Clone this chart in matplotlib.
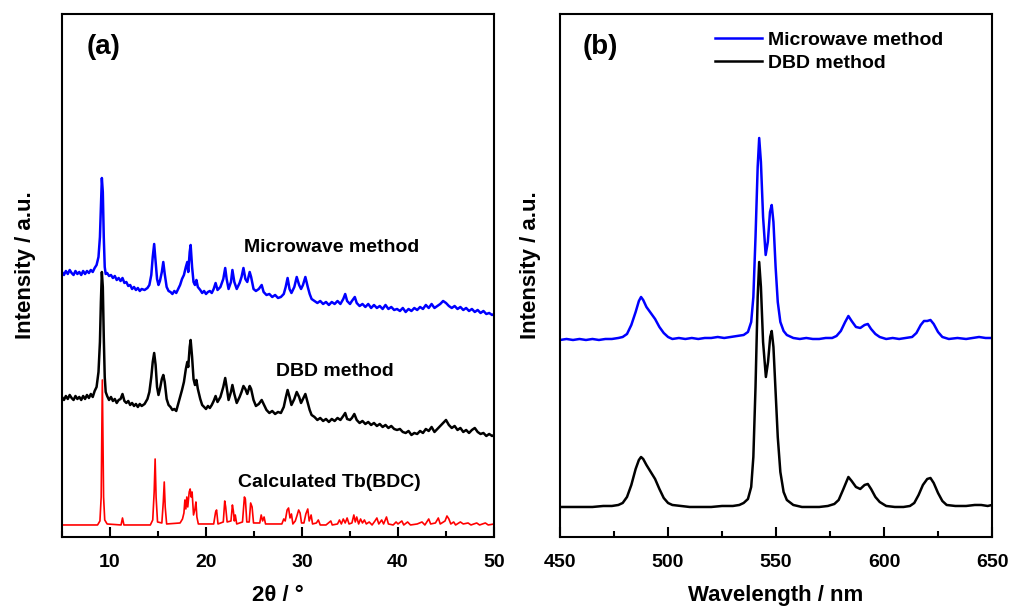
import numpy as np
import matplotlib
matplotlib.use('Agg')
import matplotlib.pyplot as plt

plt.rcParams['font.family'] = ['Liberation Sans', 'DejaVu Sans']
plt.rcParams['font.weight'] = 'bold'

# (a) XRD, 2theta in degrees, intensity in arbitrary units (stacked)
xrd_mw = np.array([
    [5.0, 265], [5.2, 262], [5.4, 266], [5.6, 263], [5.8, 267], [6.0, 264], [6.2, 262], [6.4, 266],
    [6.6, 263], [6.8, 265], [7.0, 262], [7.2, 266], [7.4, 263], [7.6, 266], [7.8, 264], [8.0, 267],
    [8.2, 265], [8.4, 269], [8.6, 272], [8.8, 280], [8.95, 300], [9.05, 330], [9.15, 359], [9.25, 345],
    [9.35, 300], [9.45, 270], [9.55, 263], [9.7, 264], [9.9, 261], [10.1, 262], [10.3, 259], [10.5, 261],
    [10.7, 257], [10.9, 259], [11.1, 256], [11.3, 259], [11.5, 254], [11.7, 255], [11.9, 251], [12.1, 252],
    [12.3, 248], [12.5, 250], [12.7, 247], [12.9, 249], [13.1, 246], [13.3, 248], [13.6, 247], [13.9, 249],
    [14.1, 252], [14.3, 262], [14.45, 280], [14.6, 293], [14.75, 275], [14.9, 258], [15.05, 252], [15.2, 256],
    [15.4, 265], [15.55, 275], [15.7, 263], [15.9, 250], [16.1, 246], [16.3, 245], [16.5, 243], [16.7, 246],
    [16.9, 244], [17.1, 248], [17.3, 252], [17.5, 258], [17.7, 262], [17.9, 270], [18.05, 275], [18.15, 265],
    [18.3, 285], [18.4, 292], [18.55, 270], [18.7, 255], [18.85, 252], [19.0, 257], [19.15, 250], [19.4, 247],
    [19.6, 244], [19.8, 246], [20.0, 243], [20.2, 245], [20.4, 246], [20.6, 244], [20.8, 248], [21.0, 254],
    [21.2, 247], [21.5, 250], [21.8, 258], [22.0, 269], [22.15, 258], [22.35, 248], [22.6, 255], [22.75, 267],
    [22.95, 255], [23.2, 248], [23.5, 254], [23.7, 260], [23.9, 269], [24.1, 258], [24.3, 255], [24.55, 265],
    [24.7, 260], [24.95, 248], [25.2, 246], [25.5, 248], [25.8, 252], [26.0, 245], [26.3, 242], [26.6, 243],
    [26.9, 240], [27.2, 242], [27.5, 239], [27.8, 240], [28.1, 243], [28.3, 250], [28.5, 259], [28.7, 248],
    [28.9, 244], [29.2, 250], [29.45, 260], [29.7, 252], [29.9, 248], [30.1, 252], [30.35, 260], [30.6, 250],
    [30.8, 243], [31.0, 238], [31.3, 236], [31.6, 234], [31.9, 236], [32.2, 233], [32.5, 235], [32.8, 232],
    [33.1, 235], [33.4, 233], [33.7, 236], [34.0, 233], [34.3, 238], [34.5, 243], [34.7, 236], [35.0, 233],
    [35.2, 236], [35.5, 240], [35.7, 234], [36.0, 231], [36.3, 233], [36.6, 230], [36.9, 233], [37.2, 229],
    [37.5, 232], [37.8, 229], [38.1, 231], [38.4, 228], [38.7, 232], [39.0, 228], [39.3, 230], [39.6, 227],
    [39.9, 228], [40.2, 226], [40.5, 229], [40.8, 225], [41.1, 228], [41.4, 226], [41.7, 229], [42.0, 227],
    [42.3, 230], [42.6, 228], [42.9, 232], [43.2, 229], [43.5, 233], [43.8, 229], [44.1, 231], [44.4, 233],
    [44.7, 236], [45.0, 234], [45.3, 231], [45.6, 229], [45.9, 231], [46.2, 228], [46.5, 230], [46.8, 227],
    [47.1, 229], [47.4, 226], [47.7, 228], [48.0, 225], [48.3, 227], [48.6, 224], [48.9, 226], [49.2, 223],
    [49.5, 224], [49.8, 222], [50.0, 223]])

xrd_dbd = np.array([
    [5.0, 140], [5.2, 137], [5.4, 141], [5.6, 138], [5.8, 142], [6.0, 139], [6.2, 137], [6.4, 141],
    [6.6, 138], [6.8, 140], [7.0, 137], [7.2, 141], [7.4, 138], [7.6, 142], [7.8, 139], [8.0, 143],
    [8.2, 140], [8.4, 146], [8.6, 150], [8.8, 165], [8.95, 195], [9.05, 235], [9.15, 265], [9.25, 250],
    [9.35, 200], [9.45, 160], [9.55, 145], [9.7, 141], [9.9, 137], [10.1, 140], [10.3, 136], [10.5, 138],
    [10.7, 134], [10.9, 137], [11.1, 138], [11.3, 143], [11.5, 136], [11.7, 134], [11.9, 136], [12.1, 132],
    [12.3, 134], [12.5, 131], [12.7, 133], [12.9, 130], [13.1, 133], [13.3, 131], [13.6, 133], [13.9, 138],
    [14.1, 145], [14.3, 160], [14.45, 175], [14.6, 184], [14.75, 172], [14.9, 150], [15.05, 142], [15.2, 148],
    [15.4, 158], [15.55, 162], [15.7, 155], [15.9, 138], [16.1, 132], [16.3, 130], [16.5, 127], [16.7, 128],
    [16.9, 126], [17.1, 133], [17.3, 140], [17.5, 147], [17.7, 155], [17.9, 168], [18.05, 175], [18.15, 170],
    [18.3, 190], [18.4, 197], [18.55, 180], [18.7, 158], [18.85, 152], [19.0, 157], [19.15, 148], [19.4, 138],
    [19.6, 132], [19.8, 130], [20.0, 128], [20.2, 131], [20.4, 129], [20.6, 132], [20.8, 136], [21.0, 141],
    [21.2, 135], [21.5, 140], [21.8, 150], [22.0, 159], [22.15, 150], [22.35, 137], [22.6, 145], [22.75, 152],
    [22.95, 143], [23.2, 134], [23.5, 140], [23.7, 145], [23.9, 151], [24.1, 148], [24.3, 143], [24.55, 151],
    [24.7, 148], [24.95, 137], [25.2, 131], [25.5, 133], [25.8, 137], [26.0, 133], [26.3, 127], [26.6, 124],
    [26.9, 126], [27.2, 123], [27.5, 125], [27.8, 124], [28.1, 130], [28.3, 139], [28.5, 147], [28.7, 140],
    [28.9, 132], [29.2, 138], [29.45, 145], [29.7, 140], [29.9, 134], [30.1, 138], [30.35, 143], [30.6, 134],
    [30.8, 127], [31.0, 122], [31.3, 120], [31.6, 117], [31.9, 119], [32.2, 116], [32.5, 118], [32.8, 115],
    [33.1, 118], [33.4, 116], [33.7, 119], [34.0, 117], [34.3, 121], [34.5, 124], [34.7, 118], [35.0, 117],
    [35.2, 119], [35.45, 123], [35.7, 117], [36.0, 114], [36.3, 116], [36.6, 113], [36.9, 115], [37.2, 112],
    [37.5, 114], [37.8, 111], [38.1, 113], [38.4, 110], [38.7, 112], [39.0, 109], [39.3, 111], [39.6, 108],
    [39.9, 107], [40.2, 108], [40.5, 105], [40.8, 104], [41.1, 106], [41.4, 102], [41.7, 104], [42.0, 103],
    [42.3, 106], [42.6, 104], [42.9, 108], [43.2, 106], [43.5, 110], [43.8, 105], [44.1, 108], [44.4, 111],
    [44.7, 114], [45.0, 117], [45.3, 112], [45.6, 109], [45.9, 111], [46.2, 107], [46.5, 109], [46.8, 105],
    [47.1, 107], [47.4, 104], [47.7, 107], [48.0, 109], [48.3, 105], [48.6, 103], [48.9, 104], [49.2, 101],
    [49.5, 103], [49.8, 101], [50.0, 102]])

xrd_calc = np.array([
    [5.0, 12], [8.7, 12], [8.95, 16], [9.08, 40], [9.15, 110], [9.2, 157], [9.26, 105], [9.33, 40],
    [9.45, 17], [9.7, 13], [11.15, 12], [11.3, 19], [11.45, 12], [14.2, 12], [14.45, 17], [14.6, 45],
    [14.7, 78], [14.8, 40], [14.95, 15], [15.4, 14], [15.55, 35], [15.65, 55], [15.75, 30], [15.9, 13],
    [17.3, 14], [17.55, 18], [17.7, 24], [17.8, 37], [17.9, 28], [18.0, 40], [18.1, 30], [18.25, 45],
    [18.35, 48], [18.45, 40], [18.55, 45], [18.7, 22], [18.85, 28], [18.95, 35], [19.05, 20], [19.2, 13],
    [20.8, 13], [21.0, 25], [21.1, 27], [21.25, 13], [21.8, 15], [21.95, 36], [22.05, 30], [22.2, 15],
    [22.6, 16], [22.75, 32], [22.85, 26], [22.95, 16], [23.05, 22], [23.2, 13], [23.8, 15], [24.0, 40],
    [24.1, 38], [24.25, 15], [24.5, 15], [24.65, 34], [24.8, 30], [24.95, 14], [25.6, 14], [25.75, 22],
    [25.9, 16], [26.05, 20], [26.2, 13], [27.9, 13], [28.1, 18], [28.25, 16], [28.45, 27], [28.6, 29],
    [28.75, 19], [28.9, 23], [29.05, 13], [29.3, 16], [29.5, 22], [29.65, 27], [29.8, 24], [29.95, 14],
    [30.2, 14], [30.4, 23], [30.6, 28], [30.75, 16], [30.95, 22], [31.1, 13], [31.5, 14], [31.7, 17],
    [31.9, 12], [32.5, 12], [33.0, 16], [33.15, 12], [33.7, 13], [33.9, 17], [34.1, 13], [34.3, 18],
    [34.5, 14], [34.7, 19], [34.9, 13], [35.2, 14], [35.4, 22], [35.55, 15], [35.7, 20], [35.9, 13],
    [36.1, 18], [36.3, 14], [36.5, 17], [36.7, 13], [37.0, 15], [37.3, 12], [37.6, 16], [37.8, 19],
    [38.0, 13], [38.3, 17], [38.5, 13], [38.8, 20], [39.0, 13], [39.5, 12], [39.8, 15], [40.0, 13],
    [40.4, 16], [40.6, 12], [41.0, 15], [41.3, 12], [42.0, 13], [42.5, 15], [42.8, 12], [43.2, 18],
    [43.4, 13], [43.9, 14], [44.2, 19], [44.4, 13], [44.9, 16], [45.1, 21], [45.3, 18], [45.5, 13],
    [45.8, 15], [46.0, 12], [46.5, 15], [46.8, 13], [47.3, 14], [47.6, 12], [48.2, 14], [48.5, 12],
    [49.1, 14], [49.4, 12], [50.0, 13]])

# (b) PL spectra, wavelength in nm
pl_mw = np.array([
    [450, 197], [453, 198], [456, 197], [459, 198], [462, 197], [465, 198], [468, 197], [471, 198],
    [474, 198], [477, 199], [479, 200], [481, 203], [483, 212], [485, 225], [486.5, 236], [487.5, 240],
    [488.5, 237], [490, 230], [492, 224], [494, 218], [496, 210], [498, 204], [500, 200], [502, 198],
    [505, 199], [508, 198], [511, 199], [514, 198], [517, 199], [520, 199], [523, 200], [526, 199],
    [529, 200], [532, 201], [535, 202], [537, 205], [538.5, 215], [539.5, 240], [540.5, 300], [541.5, 370],
    [542.2, 399], [543, 375], [544, 320], [545.2, 282], [546.2, 295], [547.2, 325], [548, 332], [548.8, 315],
    [549.8, 270], [550.8, 235], [552, 215], [553.5, 206], [555, 202], [558, 199], [561, 198], [564, 199],
    [567, 198], [570, 198], [573, 199], [576, 199], [578, 201], [580, 206], [582, 215], [583.5, 221],
    [585, 216], [587, 210], [589, 209], [591, 212], [592.5, 213], [594, 208], [596, 203], [598, 200],
    [601, 198], [604, 199], [607, 198], [610, 199], [613, 200], [615, 204], [617, 212], [618.5, 216],
    [620, 216], [621.5, 217], [623, 213], [625, 205], [627, 200], [630, 198], [634, 199], [638, 198],
    [641, 199], [644, 200], [647, 199], [650, 199]])

pl_dbd = np.array([
    [450, 30], [455, 30], [460, 30], [465, 30], [470, 31], [474, 31], [477, 32], [479, 34],
    [481, 40], [483, 52], [485, 68], [486.5, 77], [487.5, 80], [488.5, 78], [490, 72], [492, 65],
    [494, 58], [496, 48], [498, 39], [500, 34], [502, 32], [506, 31], [510, 30], [515, 30],
    [520, 30], [525, 31], [530, 31], [533, 32], [535, 34], [537, 38], [538.5, 50], [539.5, 80],
    [540.5, 150], [541.5, 240], [542.2, 275], [543, 250], [544, 195], [545.3, 160], [546.3, 175], [547.3, 200],
    [548, 206], [548.8, 190], [549.8, 145], [550.8, 100], [552, 65], [553.5, 45], [555, 37], [558, 32],
    [562, 30], [566, 30], [570, 30], [574, 31], [577, 33], [579, 37], [581, 47], [583.5, 60],
    [585, 56], [587, 50], [589, 48], [591, 52], [592.5, 53], [594, 48], [596, 40], [598, 35],
    [601, 31], [605, 30], [609, 30], [612, 31], [614, 34], [616, 42], [618, 52], [620, 58],
    [621.5, 59], [623, 54], [625, 44], [627, 36], [629, 32], [633, 31], [638, 31], [642, 32],
    [645, 32], [648, 31], [650, 32]])

xrd_labels = ['Microwave method', 'DBD method', 'Calculated Tb(BDC)']
pl_labels = ['Microwave method', 'DBD method']


fig = plt.figure(figsize=(10.1, 6.06), dpi=100)
ax1 = fig.add_axes([0.0614, 0.1139, 0.4277, 0.8630])
ax2 = fig.add_axes([0.5545, 0.1139, 0.4277, 0.8630])

ax1.plot(xrd_mw[:, 0], xrd_mw[:, 1], color='#0000ff', lw=1.8)
ax1.plot(xrd_dbd[:, 0], xrd_dbd[:, 1], color='black', lw=1.8)
ax1.plot(xrd_calc[:, 0], xrd_calc[:, 1], color='#ff0000', lw=1.2)
ax1.text(33.1, 289, xrd_labels[0], ha='center', va='center', fontsize=14, fontweight='bold')
ax1.text(33.4, 165, xrd_labels[1], ha='center', va='center', fontsize=14, fontweight='bold')
ax1.text(32.8, 54, xrd_labels[2], ha='center', va='center', fontsize=14, fontweight='bold')
ax1.text(9.3, 490, '(a)', ha='center', va='center', fontsize=20, fontweight='bold')
ax1.set_xlim(5, 50)
ax1.set_xticks([10, 20, 30, 40, 50])
ax1.set_xticks(np.arange(5, 51, 5), minor=True)
ax1.set_xlabel('2θ / °', fontsize=16, fontweight='bold', labelpad=10)

ax2.plot(pl_mw[:, 0], pl_mw[:, 1], color='#0000ff', lw=1.8, label=pl_labels[0])
ax2.plot(pl_dbd[:, 0], pl_dbd[:, 1], color='black', lw=1.8, label=pl_labels[1])
ax2.text(468.5, 490, '(b)', ha='center', va='center', fontsize=20, fontweight='bold')
ax2.set_xlim(450, 650)
ax2.set_xticks([450, 500, 550, 600, 650])
ax2.set_xticks(np.arange(450, 651, 25), minor=True)
ax2.set_xlabel('Wavelength / nm', fontsize=16, fontweight='bold', labelpad=10)
ax2.legend(loc='upper left', bbox_to_anchor=(715 / 1010, 1 - 31 / 606), bbox_transform=fig.transFigure,
           frameon=False, borderpad=0, borderaxespad=0, handlelength=2.4, handletextpad=0.3,
           labelspacing=0.3, prop={'size': 14, 'weight': 'bold'})

for ax, xl in ((ax1, -0.060), (ax2, -0.044)):
    ax.set_ylim(0, 523)
    ax.set_yticks([])
    ax.set_ylabel('Intensity / a.u.', fontsize=16, fontweight='bold')
    ax.yaxis.set_label_coords(xl, 0.52)
    ax.tick_params(axis='x', which='major', direction='in', length=7, width=1.5, labelsize=14, pad=12)
    ax.tick_params(axis='x', which='minor', direction='in', length=4, width=1.5)
    for lab in ax.get_xticklabels():
        lab.set_fontweight('bold')
    for s in ax.spines.values():
        s.set_linewidth(1.5)

fig.savefig('out.png', dpi=100)
